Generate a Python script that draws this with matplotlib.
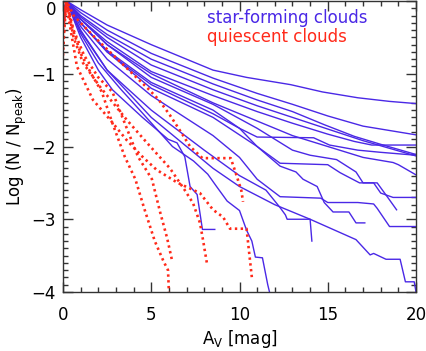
import matplotlib
matplotlib.use('Agg')
import matplotlib.pyplot as plt
from matplotlib.ticker import MultipleLocator

# star-forming clouds (solid lines): A_V [mag] and log(N/N_peak)
sf1_av = [0, 0.2, 1, 2.5, 5, 8.5, 10.4, 12.9, 14.7, 16.7, 18.5, 20]
sf1_logn = [-0.15, 0, -0.12, -0.33, -0.6, -0.95, -1.05, -1.15, -1.25, -1.33, -1.38, -1.41]
sf2_av = [0, 0.2, 1, 2.5, 5, 8.5, 11, 13, 15, 17, 20]
sf2_logn = [-0.2, 0, -0.16, -0.4, -0.72, -1.06, -1.27, -1.42, -1.58, -1.72, -1.84]
sf3_av = [0, 0.2, 1, 2.5, 5, 8.5, 11, 13, 14.8, 16.5, 18, 20]
sf3_logn = [-0.2, 0, -0.2, -0.46, -0.8, -1.14, -1.36, -1.52, -1.7, -1.86, -1.97, -2.11]
sf4_av = [0, 0.2, 1, 2.5, 5, 8.5, 11, 13, 15, 17, 20]
sf4_logn = [-0.25, 0, -0.22, -0.5, -0.88, -1.22, -1.44, -1.6, -1.76, -1.92, -2.13]
sf5_av = [0, 0.2, 1, 2.5, 5, 8.5, 11, 13, 15, 16.5, 17.5, 20]
sf5_logn = [-0.3, 0, -0.25, -0.56, -0.97, -1.3, -1.52, -1.68, -1.83, -1.93, -1.98, -1.98]
sf6_av = [0, 0.2, 1, 2.5, 5, 8.5, 10, 11, 12.3, 15, 15.7, 16.8, 17.6, 18, 18.7, 20]
sf6_logn = [-0.3, 0, -0.3, -0.68, -1.12, -1.5, -1.75, -2.0, -2.23, -2.25, -2.36, -2.5, -2.5, -2.64, -2.7, -2.7]
sf7_av = [0, 0.2, 1, 2.5, 5, 8.5, 10, 11, 12.3, 14.6, 15, 16.7, 17.6, 17.8, 18.5, 20]
sf7_logn = [-0.35, 0, -0.35, -0.8, -1.3, -1.85, -2.15, -2.45, -2.69, -2.71, -2.77, -2.77, -2.79, -2.85, -3.1, -3.1]
sf8_av = [0, 0.2, 1, 2.5, 5, 8.5, 10, 12, 14, 16.6, 17.4, 17.6, 18.3, 19.1, 19.4, 19.9, 20]
sf8_logn = [-0.4, 0, -0.4, -0.95, -1.6, -2.3, -2.55, -2.8, -3.0, -3.28, -3.49, -3.47, -3.55, -3.55, -3.86, -3.86, -4.0]
sf9_av = [0, 0.2, 1, 2.5, 5, 8, 10, 11.5, 12.3, 12.6, 12.7, 14, 14.1]
sf9_logn = [-0.4, 0, -0.42, -0.95, -1.5, -2.05, -2.4, -2.6, -2.84, -2.94, -3.0, -3.0, -3.3]
sf10_av = [0, 0.2, 1, 2.5, 5, 8.5, 11, 12.3, 13.2, 13.6, 14.4, 14.8, 15.3, 16.2, 16.6, 17.1]
sf10_logn = [-0.3, 0, -0.3, -0.7, -1.2, -1.6, -2.0, -2.27, -2.35, -2.45, -2.55, -2.77, -2.9, -2.9, -3.05, -3.05]
sf11_av = [0, 0.2, 1, 2.5, 5, 8.5, 11, 13, 14, 15.5, 16.6, 17, 17.8, 18.4, 18.9]
sf11_logn = [-0.25, 0, -0.25, -0.6, -1.05, -1.42, -1.75, -2.05, -2.12, -2.18, -2.35, -2.5, -2.5, -2.7, -2.87]
sf12_av = [0, 0.2, 1, 2, 3.3, 4.5, 5.2, 6.2, 7.4, 8.2, 8.7, 9.3, 10, 10.4, 10.7, 10.9, 11.3, 11.6, 11.7]
sf12_logn = [-0.3, 0, -0.45, -0.85, -1.22, -1.54, -1.73, -2.0, -2.2, -2.38, -2.55, -2.75, -2.88, -3.15, -3.3, -3.52, -3.53, -3.9, -4.0]
sf13_av = [0, 0.2, 1, 2, 2.8, 4.5, 5.95, 6.46, 6.9, 7.2, 7.6, 7.9, 8.6]
sf13_logn = [-0.35, 0, -0.5, -0.95, -1.22, -1.6, -1.9, -1.95, -2.14, -2.55, -2.66, -3.14, -3.14]
sf14_av = [0, 0.2, 1, 2.5, 5, 8.5, 11, 13, 15, 17, 18.7, 19, 20]
sf14_logn = [-0.2, 0, -0.25, -0.6, -1.0, -1.4, -1.65, -1.85, -2.0, -2.15, -2.22, -2.25, -2.39]
sf15_av = [0, 0.2, 1, 2.5, 5, 8.5, 10, 11, 14.2, 15.1, 16.7, 18, 20]
sf15_logn = [-0.3, 0, -0.3, -0.7, -1.15, -1.55, -1.75, -1.87, -1.88, -1.98, -2.05, -2.08, -2.12]

# quiescent clouds (dotted lines)
q1_av = [0, 0.2, 0.5, 1.0, 1.6, 2.2, 2.8, 3.5, 4.1, 4.6, 5.2, 5.7, 5.95, 6.0]
q1_logn = [-0.6, 0, -0.35, -0.72, -1.0, -1.25, -1.68, -2.14, -2.45, -2.85, -3.3, -3.58, -3.7, -4.0]
q2_av = [0, 0.2, 0.6, 1.2, 2.0, 2.8, 3.5, 4.25, 5.04, 5.5, 5.9, 6.2]
q2_logn = [-0.3, 0, -0.4, -0.75, -1.05, -1.25, -1.68, -2.14, -2.45, -2.9, -3.26, -3.59]
q3_av = [0, 0.2, 0.6, 1.13, 2.1, 3.6, 4.76, 6.06, 6.9, 7.37, 7.76, 7.93, 8.15]
q3_logn = [-0.4, 0, -0.5, -0.85, -1.18, -1.63, -1.95, -2.3, -2.6, -2.78, -3.05, -3.28, -3.6]
q4_av = [0, 0.15, 0.79, 1.7, 2.66, 3.6, 4.5, 5.3, 6.5, 7.76, 8.5, 9.07, 9.46, 10.4, 10.7]
q4_logn = [-0.75, 0, -0.9, -1.36, -1.63, -1.91, -2.14, -2.32, -2.5, -2.64, -2.87, -2.97, -3.13, -3.13, -3.8]
q5_av = [0, 0.2, 0.6, 1.8, 3.3, 4.8, 5.4, 6.06, 6.6, 7.2, 7.9, 9.5, 9.7, 10.1, 10.2]
q5_logn = [-0.1, 0, -0.2, -0.5, -0.85, -1.2, -1.35, -1.57, -1.77, -2.0, -2.16, -2.16, -2.3, -2.6, -2.76]

sf_curves = [(sf1_av, sf1_logn), (sf2_av, sf2_logn), (sf3_av, sf3_logn), (sf4_av, sf4_logn),
             (sf5_av, sf5_logn), (sf6_av, sf6_logn), (sf7_av, sf7_logn), (sf8_av, sf8_logn),
             (sf9_av, sf9_logn), (sf10_av, sf10_logn), (sf11_av, sf11_logn), (sf12_av, sf12_logn),
             (sf13_av, sf13_logn), (sf14_av, sf14_logn), (sf15_av, sf15_logn)]
q_curves = [(q1_av, q1_logn), (q2_av, q2_logn), (q3_av, q3_logn), (q4_av, q4_logn), (q5_av, q5_logn)]

blue = "#4a28e6"
red = "#ff2a1a"

fig = plt.figure(figsize=(4.26, 3.51), dpi=100)
ax = fig.add_axes([63 / 426, 1 - 292 / 351, 353 / 426, 291 / 351])

for av, logn in sf_curves:
	ax.plot(av, logn, color=blue, lw=1.0)
for av, logn in q_curves:
	ax.plot(av, logn, color=red, lw=1.9, ls=(0, (0.9, 1.3)))

ax.set_xlim(0, 20)
ax.set_ylim(-4, 0)
ax.set_xticks([0, 5, 10, 15, 20])
ax.set_yticks([-4, -3, -2, -1, 0])
ax.xaxis.set_minor_locator(MultipleLocator(1))
ax.yaxis.set_minor_locator(MultipleLocator(0.1))
ax.tick_params(which='both', direction='in', top=True, right=True, color='#333333', width=1)
ax.tick_params(which='major', length=7, labelsize=12)
ax.tick_params(which='minor', length=3.5)
ax.tick_params(axis='x', pad=10)
ax.tick_params(axis='y', pad=5)
ax.yaxis.get_major_ticks()[-1].label1.set_va('top')
for s in ax.spines.values():
	s.set_color('#333333')
	s.set_linewidth(1)

ax.set_xlabel(r'A$_{\rm V}$ [mag]', fontsize=12, labelpad=3)
ax.set_ylabel(r'Log (N / N$_{\rm peak}$)', fontsize=12, labelpad=2)

ax.text(0.408, 0.94, 'star-forming clouds', transform=ax.transAxes, color=blue, fontsize=12, va='center')
ax.text(0.408, 0.878, 'quiescent clouds', transform=ax.transAxes, color=red, fontsize=12, va='center')

plt.savefig("out.png", dpi=100)
